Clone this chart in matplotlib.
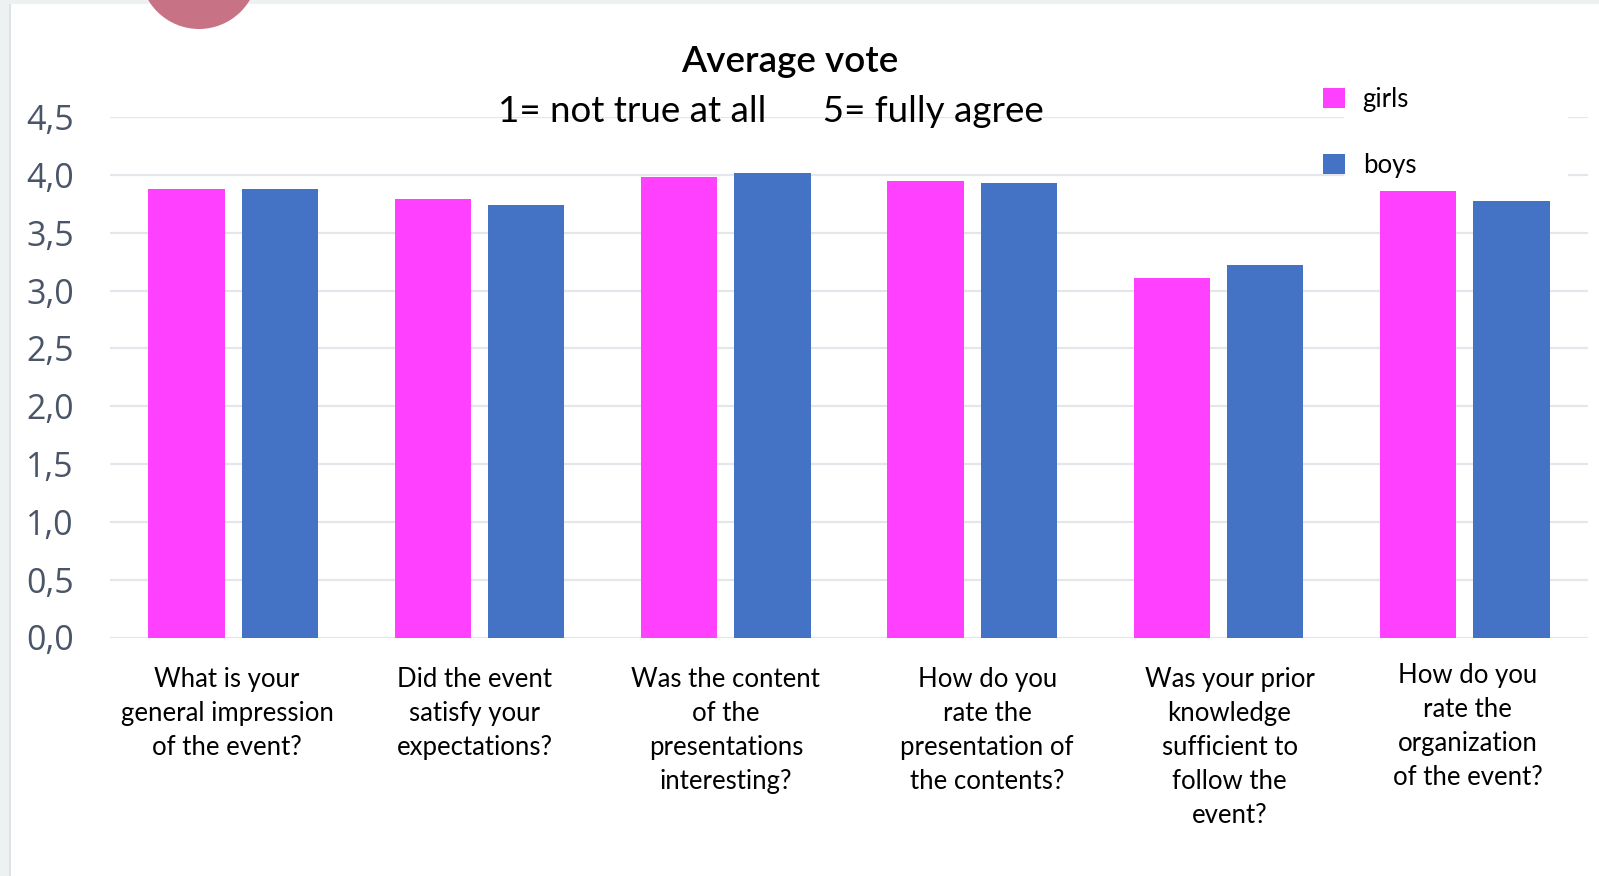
import numpy as np
import matplotlib
matplotlib.use("Agg")
import matplotlib.pyplot as plt
import matplotlib.transforms as mtransforms
from matplotlib.patches import Rectangle, Ellipse

categories = [
    "What is your\ngeneral impression\nof the event?",
    "Did the event\nsatisfy your\nexpectations?",
    "Was the content\nof the\npresentations\ninteresting?",
    "How do you\nrate the\npresentation of\nthe contents?",
    "Was your prior\nknowledge\nsufficient to\nfollow the\nevent?",
    "How do you\nrate the\norganization\nof the event?",
]
girls = [3.88, 3.79, 3.98, 3.95, 3.11, 3.86]
boys = [3.88, 3.74, 4.02, 3.93, 3.22, 3.77]
ytick_values = [0.0, 0.5, 1.0, 1.5, 2.0, 2.5, 3.0, 3.5, 4.0, 4.5]
ytick_labels = ["0,0", "0,5", "1,0", "1,5", "2,0", "2,5", "3,0", "3,5", "4,0", "4,5"]
series_names = ["girls", "boys"]
title = "Average vote"
subtitle = "1= not true at all      5= fully agree"

W, H = 1599, 876
fig = plt.figure(figsize=(W / 100, H / 100), dpi=100, facecolor="white")

# screenshot frame decorations
fig.add_artist(Rectangle((0, 0), 9 / W, 1, transform=fig.transFigure,
                         facecolor="#eef1f1", edgecolor="none", zorder=-5))
fig.add_artist(Rectangle((9 / W, 0), 1.5 / W, 1, transform=fig.transFigure,
                         facecolor="#dde2e4", edgecolor="none", zorder=-5))
fig.add_artist(Rectangle((0, 1 - 4 / H), 1, 4 / H, transform=fig.transFigure,
                         facecolor="#eef1f1", edgecolor="none", zorder=-5))
fig.add_artist(Ellipse((199 / W, (H + 30) / H), 118 / W, 118 / H,
                       transform=fig.transFigure, facecolor="#c87286",
                       edgecolor="none", zorder=10))

left, right, bottom, top = 110, 1588, 637.5, 117
ax = fig.add_axes([left / W, 1 - bottom / H, (right - left) / W, (bottom - top) / H])

x = np.arange(len(categories))
off = 0.19
bw = 0.31
ax.bar(x - off, girls, bw, color="#ff40ff", label=series_names[0], zorder=2)
ax.bar(x + off, boys, bw, color="#4472c4", label=series_names[1], zorder=2)

ax.set_xlim(-0.5, len(categories) - 0.5)
ax.set_ylim(0, 4.5)
ax.set_yticks(ytick_values)
ax.set_yticklabels(ytick_labels, fontfamily="Open Sans", fontsize=24.5, color="#4a5568")
ax.set_xticks(x)
ax.set_xticklabels(categories, fontfamily="Lato", fontsize=18.5, color="#000000",
                   linespacing=1.46, va="top")
ax.tick_params(axis="y", length=0, pad=26)
ax.tick_params(axis="x", length=0, pad=21)
ax.grid(axis="y", color="#e3e6ea", linewidth=1.6)
ax.set_axisbelow(True)
for s in ax.spines.values():
    s.set_visible(False)

# small per-label nudges (pixels) to match the original label placement
nudges = [(-6, 0), (-5, 0), (0, 0), (15, 0), (11, 0), (3, 4)]
for lbl, (dx, dy) in zip(ax.get_xticklabels(), nudges):
    lbl.set_transform(lbl.get_transform() +
                      mtransforms.ScaledTranslation(dx / 100, dy / 100, fig.dpi_scale_trans))

# white area behind legend text (gridlines hidden there)
ax.add_patch(Rectangle((1344 / W, 1 - 185 / H), (1568 - 1344) / W, 80 / H,
                       transform=fig.transFigure, facecolor="white",
                       edgecolor="none", zorder=1.5))

leg = ax.legend(loc="upper left", bbox_to_anchor=(1310 / W, 1 - 74 / H),
                bbox_transform=fig.transFigure, frameon=False, borderpad=0,
                handlelength=0.85, handleheight=0.85, handletextpad=0.7,
                labelspacing=1.6, prop={"family": "Lato", "size": 18.5})
for t in leg.get_texts():
    t.set_color("#000000")

fig.text(790 / W, 1 - 62 / H, title, ha="center", va="center",
         fontfamily="Lato", fontweight="semibold", fontsize=26.5, color="#000000")
fig.text(771 / W, 1 - 111 / H, subtitle, ha="center", va="center",
         fontfamily="Lato", fontsize=26.5, color="#000000")

fig.savefig("out.png", dpi=100, facecolor="white")
